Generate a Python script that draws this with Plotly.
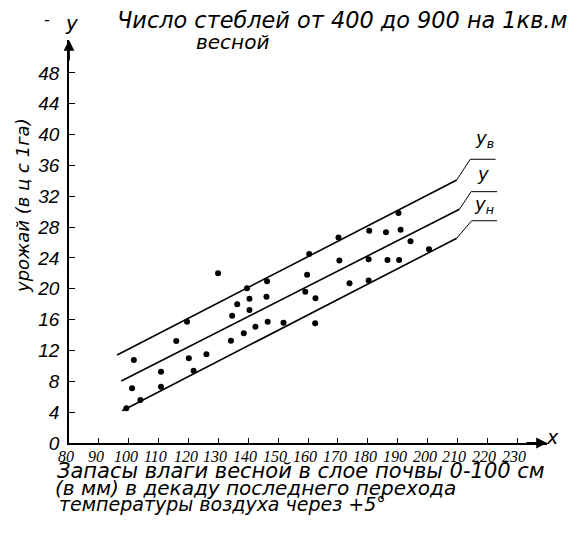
import plotly.graph_objects as go

# ---- data ----
point_x = [99.2, 101.1, 101.7, 103.9, 110.8, 110.8, 115.9, 119.5, 120.1, 121.7,
           126.0, 129.9, 134.2, 134.6, 136.3, 138.5, 139.6, 140.4, 140.4, 142.4,
           146.3, 146.1, 146.5, 151.8, 159.1, 159.7, 160.4, 162.5, 162.4, 170.2,
           170.5, 173.9, 180.3, 180.3, 180.5, 186.1, 186.6, 190.3, 190.5, 191.0,
           194.3, 200.5]
point_y = [4.50, 7.09, 10.77, 5.58, 9.25, 7.30, 13.23, 15.73, 10.98, 9.38,
           11.50, 22.02, 13.27, 16.50, 18.01, 14.23, 20.07, 18.72, 17.25, 15.08,
           20.99, 18.97, 15.73, 15.59, 19.63, 21.83, 24.52, 18.78, 15.53, 26.66,
           23.67, 20.72, 21.08, 23.83, 27.53, 27.33, 23.74, 29.84, 23.74, 27.67,
           26.17, 25.12]

upper_x = [96.1, 209.8]
upper_y = [11.41, 34.12]
middle_x = [97.5, 210.7]
middle_y = [8.04, 30.32]
lower_x = [97.8, 209.8]
lower_y = [4.19, 26.56]

upper_lead_x = [209.8, 214.3, 222.8]
upper_lead_y = [34.12, 36.8, 36.8]
middle_lead_x = [210.7, 214.6, 223.3]
middle_lead_y = [30.32, 32.6, 32.6]
lower_lead_x = [209.8, 214.8, 223.3]
lower_lead_y = [26.56, 28.83, 28.83]

line_labels = ["y<sub>в</sub>", "y", "y<sub>н</sub>"]
line_label_x = [219.0, 218.5, 219.0]
line_label_y = [39.4, 35.0, 30.9]

x_ticks = list(range(80, 240, 10))
y_ticks = list(range(0, 52, 4))

FONT = "DejaVu Sans"
NARROW = "Liberation Sans Narrow"

# page offset (default 8px body margin) compensated in the figure size
OFF = 8
W, H = 583 - OFF, 537 - 2 * OFF
# plot area in window pixels: left 69, right 547, top 40, bottom 443
L = 69 - OFF
T = 40 - OFF
pw, ph = 547 - 69, 443 - 40
R = W - L - pw
B = H - T - ph

def px(xw):
    return (xw - 69) / pw

def py(yw):
    return (443 - yw) / ph

fig = go.Figure()

for lx, ly in [(upper_x, upper_y), (middle_x, middle_y), (lower_x, lower_y)]:
    fig.add_trace(go.Scatter(x=lx, y=ly, mode="lines",
                             line=dict(color="black", width=1.6),
                             showlegend=False, hoverinfo="skip"))
for lx, ly in [(upper_lead_x, upper_lead_y), (middle_lead_x, middle_lead_y),
               (lower_lead_x, lower_lead_y)]:
    fig.add_trace(go.Scatter(x=lx, y=ly, mode="lines",
                             line=dict(color="black", width=1),
                             showlegend=False, hoverinfo="skip"))

fig.add_trace(go.Scatter(x=point_x, y=point_y, mode="markers",
                         marker=dict(color="black", size=6),
                         showlegend=False))

for t, lx, ly in zip(line_labels, line_label_x, line_label_y):
    fig.add_annotation(x=lx, y=ly, text=t, showarrow=False,
                       xanchor="center", yanchor="middle",
                       font=dict(family=FONT, size=18, color="black", style="italic"))

# axis arrows
fig.add_annotation(x=80, y=52.27, ax=0, ay=22, xref="x", yref="y",
                   showarrow=True, arrowhead=2, arrowsize=1.2, arrowwidth=1.8,
                   arrowcolor="black", text="")
fig.add_annotation(x=240, y=0, ax=-22, ay=0, xref="x", yref="y",
                   showarrow=True, arrowhead=2, arrowsize=1.2, arrowwidth=1.8,
                   arrowcolor="black", text="")

# x tick labels (placed at the tick values)
for v in x_ticks:
    fig.add_annotation(x=v, y=py(446), xref="x", yref="paper", text="<i>%d</i>" % v,
                       showarrow=False, xanchor="center", yanchor="top", xshift=-3,
                       font=dict(family=NARROW, size=16, color="black"))

def txt(x, y, s, size=19, xanchor="left", family=FONT):
    fig.add_annotation(x=px(x), y=py(y), xref="paper", yref="paper", text=s,
                       showarrow=False, xanchor=xanchor, yanchor="middle",
                       font=dict(family=family, size=size, color="black", style="italic"))

txt(115, 20, "Число стеблей от 400 до 900 на 1кв.м", size=22.4)
txt(232, 42, "весной", size=20, xanchor="center")
txt(47, 20, "-", size=16, xanchor="center")
txt(72, 23, "y", size=20, xanchor="center")
txt(552, 437, "x", size=19, xanchor="center")
txt(55, 471, "Запасы влаги весной в слое почвы 0-100 см", size=21)
txt(53, 488, "(в мм) в декаду последнего перехода", size=20)
txt(57, 504, "температуры воздуха через +5°", size=19)

fig.add_annotation(x=px(22), y=py(206), xref="paper", yref="paper",
                   text="урожай (в ц с 1га)", showarrow=False, textangle=-90,
                   xanchor="center", yanchor="middle",
                   font=dict(family=FONT, size=18, color="black", style="italic"))

fig.update_xaxes(range=[80, 240], tickvals=x_ticks, showticklabels=False,
                 showgrid=False, zeroline=False, showline=True, linecolor="black",
                 linewidth=1.8, ticks="inside", ticklen=5, tickcolor="black")
fig.update_yaxes(range=[0, 52.27], tickvals=y_ticks,
                 ticktext=["<i>%d</i>" % v for v in y_ticks],
                 showgrid=False, zeroline=False, showline=True, linecolor="black",
                 linewidth=1.8, ticks="inside", ticklen=6, tickcolor="black",
                 ticklabelstandoff=4,
                 tickfont=dict(family="Liberation Sans", size=19, color="black"))

fig.update_layout(width=W, height=H, margin=dict(l=L, r=R, t=T, b=B),
                  plot_bgcolor="white", paper_bgcolor="white")

fig.write_html("out.html")
